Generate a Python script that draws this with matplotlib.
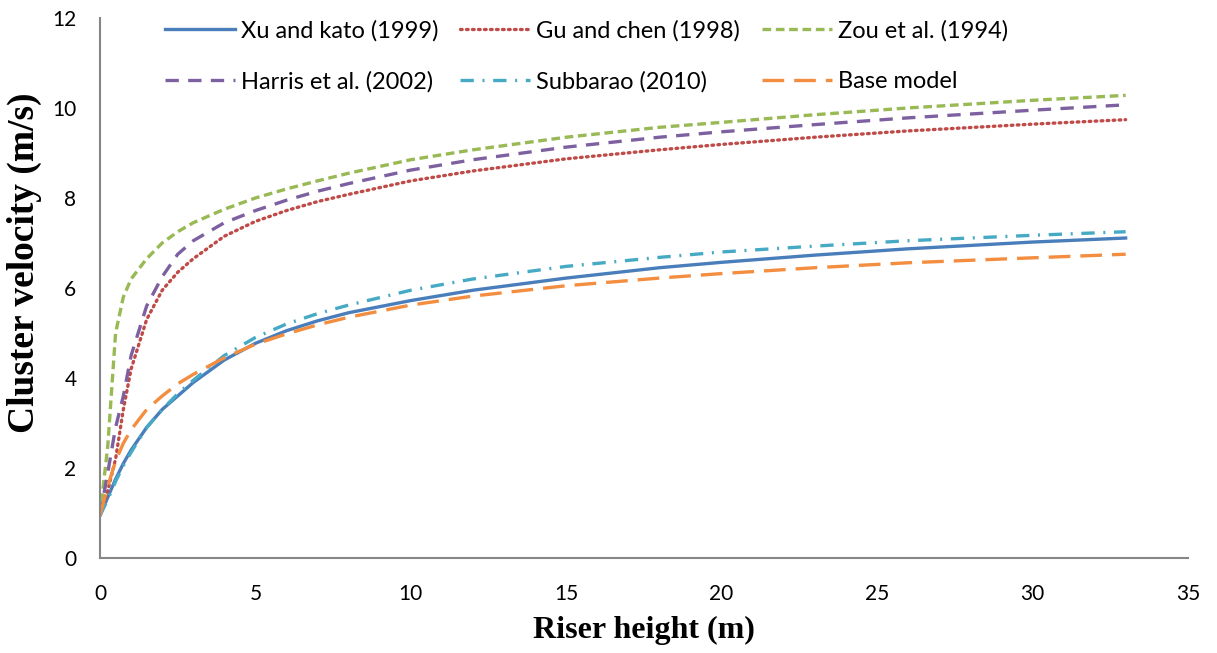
import numpy as np
import matplotlib

matplotlib.use("Agg")
import matplotlib.pyplot as plt

# riser height (m) where curves were read
height = [0, 0.25, 0.5, 0.75, 1, 1.5, 2, 2.5, 3, 4, 5, 6, 7, 8,
          10, 12, 15, 18, 20, 23, 26, 30, 33]

xu_kato = [0.95, 1.35, 1.75, 2.1, 2.4, 2.9, 3.3, 3.6, 3.9, 4.4, 4.77, 5.05,
           5.27, 5.45, 5.72, 5.95, 6.22, 6.45, 6.57, 6.73, 6.87, 7.02, 7.11]
gu_chen = [0.95, 1.5, 2.2, 3.3, 4.2, 5.3, 5.95, 6.35, 6.65, 7.15, 7.48, 7.72,
           7.92, 8.08, 8.38, 8.6, 8.87, 9.07, 9.19, 9.35, 9.49, 9.64, 9.74]
zou = [0.95, 2.5, 5.0, 5.8, 6.2, 6.65, 7.0, 7.25, 7.45, 7.75, 8.0, 8.2,
       8.38, 8.55, 8.85, 9.07, 9.35, 9.57, 9.68, 9.85, 10.0, 10.17, 10.28]
harris = [0.95, 1.9, 2.9, 3.6, 4.5, 5.6, 6.25, 6.75, 7.05, 7.45, 7.72, 7.95,
          8.15, 8.32, 8.62, 8.85, 9.13, 9.35, 9.47, 9.63, 9.78, 9.95, 10.07]
subbarao = [0.95, 1.3, 1.7, 2.05, 2.35, 2.9, 3.3, 3.65, 3.95, 4.5, 4.9, 5.2,
            5.43, 5.62, 5.95, 6.2, 6.48, 6.68, 6.8, 6.93, 7.05, 7.17, 7.25]
base = [0.95, 1.6, 2.15, 2.55, 2.85, 3.3, 3.6, 3.87, 4.08, 4.45, 4.75, 4.98,
        5.18, 5.35, 5.62, 5.82, 6.05, 6.22, 6.32, 6.45, 6.56, 6.67, 6.75]

labels = ["Xu and kato (1999)", "Gu and chen (1998)", "Zou et al. (1994)",
          "Harris et al. (2002)", "Subbarao (2010)", "Base model"]

fig = plt.figure(figsize=(12.17, 6.53), dpi=100)
ax = fig.add_axes([0.0822, 0.1455, 0.8938, 0.827])

lw = 2.4
h_xu, = ax.plot(height, xu_kato, color="#4A7EBB", lw=lw, ls="-")
h_gu, = ax.plot(height, gu_chen, color="#BE4B48", lw=lw, ls=(0, (0.5, 1.3)),
                dash_capstyle="round")
h_zou, = ax.plot(height, zou, color="#98B954", lw=lw, ls=(0, (2.6, 1.4)))
h_har, = ax.plot(height, harris, color="#7D60A0", lw=lw, ls=(0, (4, 2.8)))
h_sub, = ax.plot(height, subbarao, color="#46AAC5", lw=lw,
                 ls=(0, (4, 2.6, 0.6, 2.6)))
h_base, = ax.plot(height, base, color="#F38D3F", lw=lw, ls=(0, (6.5, 3)))

ax.set_xlim(0, 35)
ax.set_ylim(0, 12)
ax.set_xticks(np.arange(0, 36, 5))
ax.set_yticks(np.arange(0, 13, 2))
for s in ("top", "right"):
    ax.spines[s].set_visible(False)
for s in ("left", "bottom"):
    ax.spines[s].set_color("#868686")
    ax.spines[s].set_linewidth(1.5)
ax.tick_params(length=0, labelsize=15)
ax.tick_params(axis="x", pad=19)
ax.tick_params(axis="y", pad=17)
for t in ax.get_xticklabels() + ax.get_yticklabels():
    t.set_family("Lato")

ax.set_xlabel("Riser height (m)", family="Liberation Serif", weight="bold",
              fontsize=23, labelpad=8)
ax.set_ylabel("Cluster velocity (m/s)", family="Liberation Serif", weight="bold",
              fontsize=27)
ax.yaxis.set_label_coords(-0.053, 0.546)

# legend fills column-wise, so order handles to read row-wise
order = [(h_xu, 0), (h_har, 3), (h_gu, 1), (h_sub, 4), (h_zou, 2), (h_base, 5)]
fig.legend([h for h, _ in order], [labels[i] for _, i in order],
           loc="upper left", bbox_to_anchor=(165 / 1217, 1 - 20 / 653),
           ncol=3, frameon=False, prop={"family": "Lato", "size": 17},
           handlelength=2.95, handletextpad=0.25, columnspacing=0.95,
           labelspacing=1.25, borderpad=0, borderaxespad=0)

fig.savefig("out.png", dpi=100)
